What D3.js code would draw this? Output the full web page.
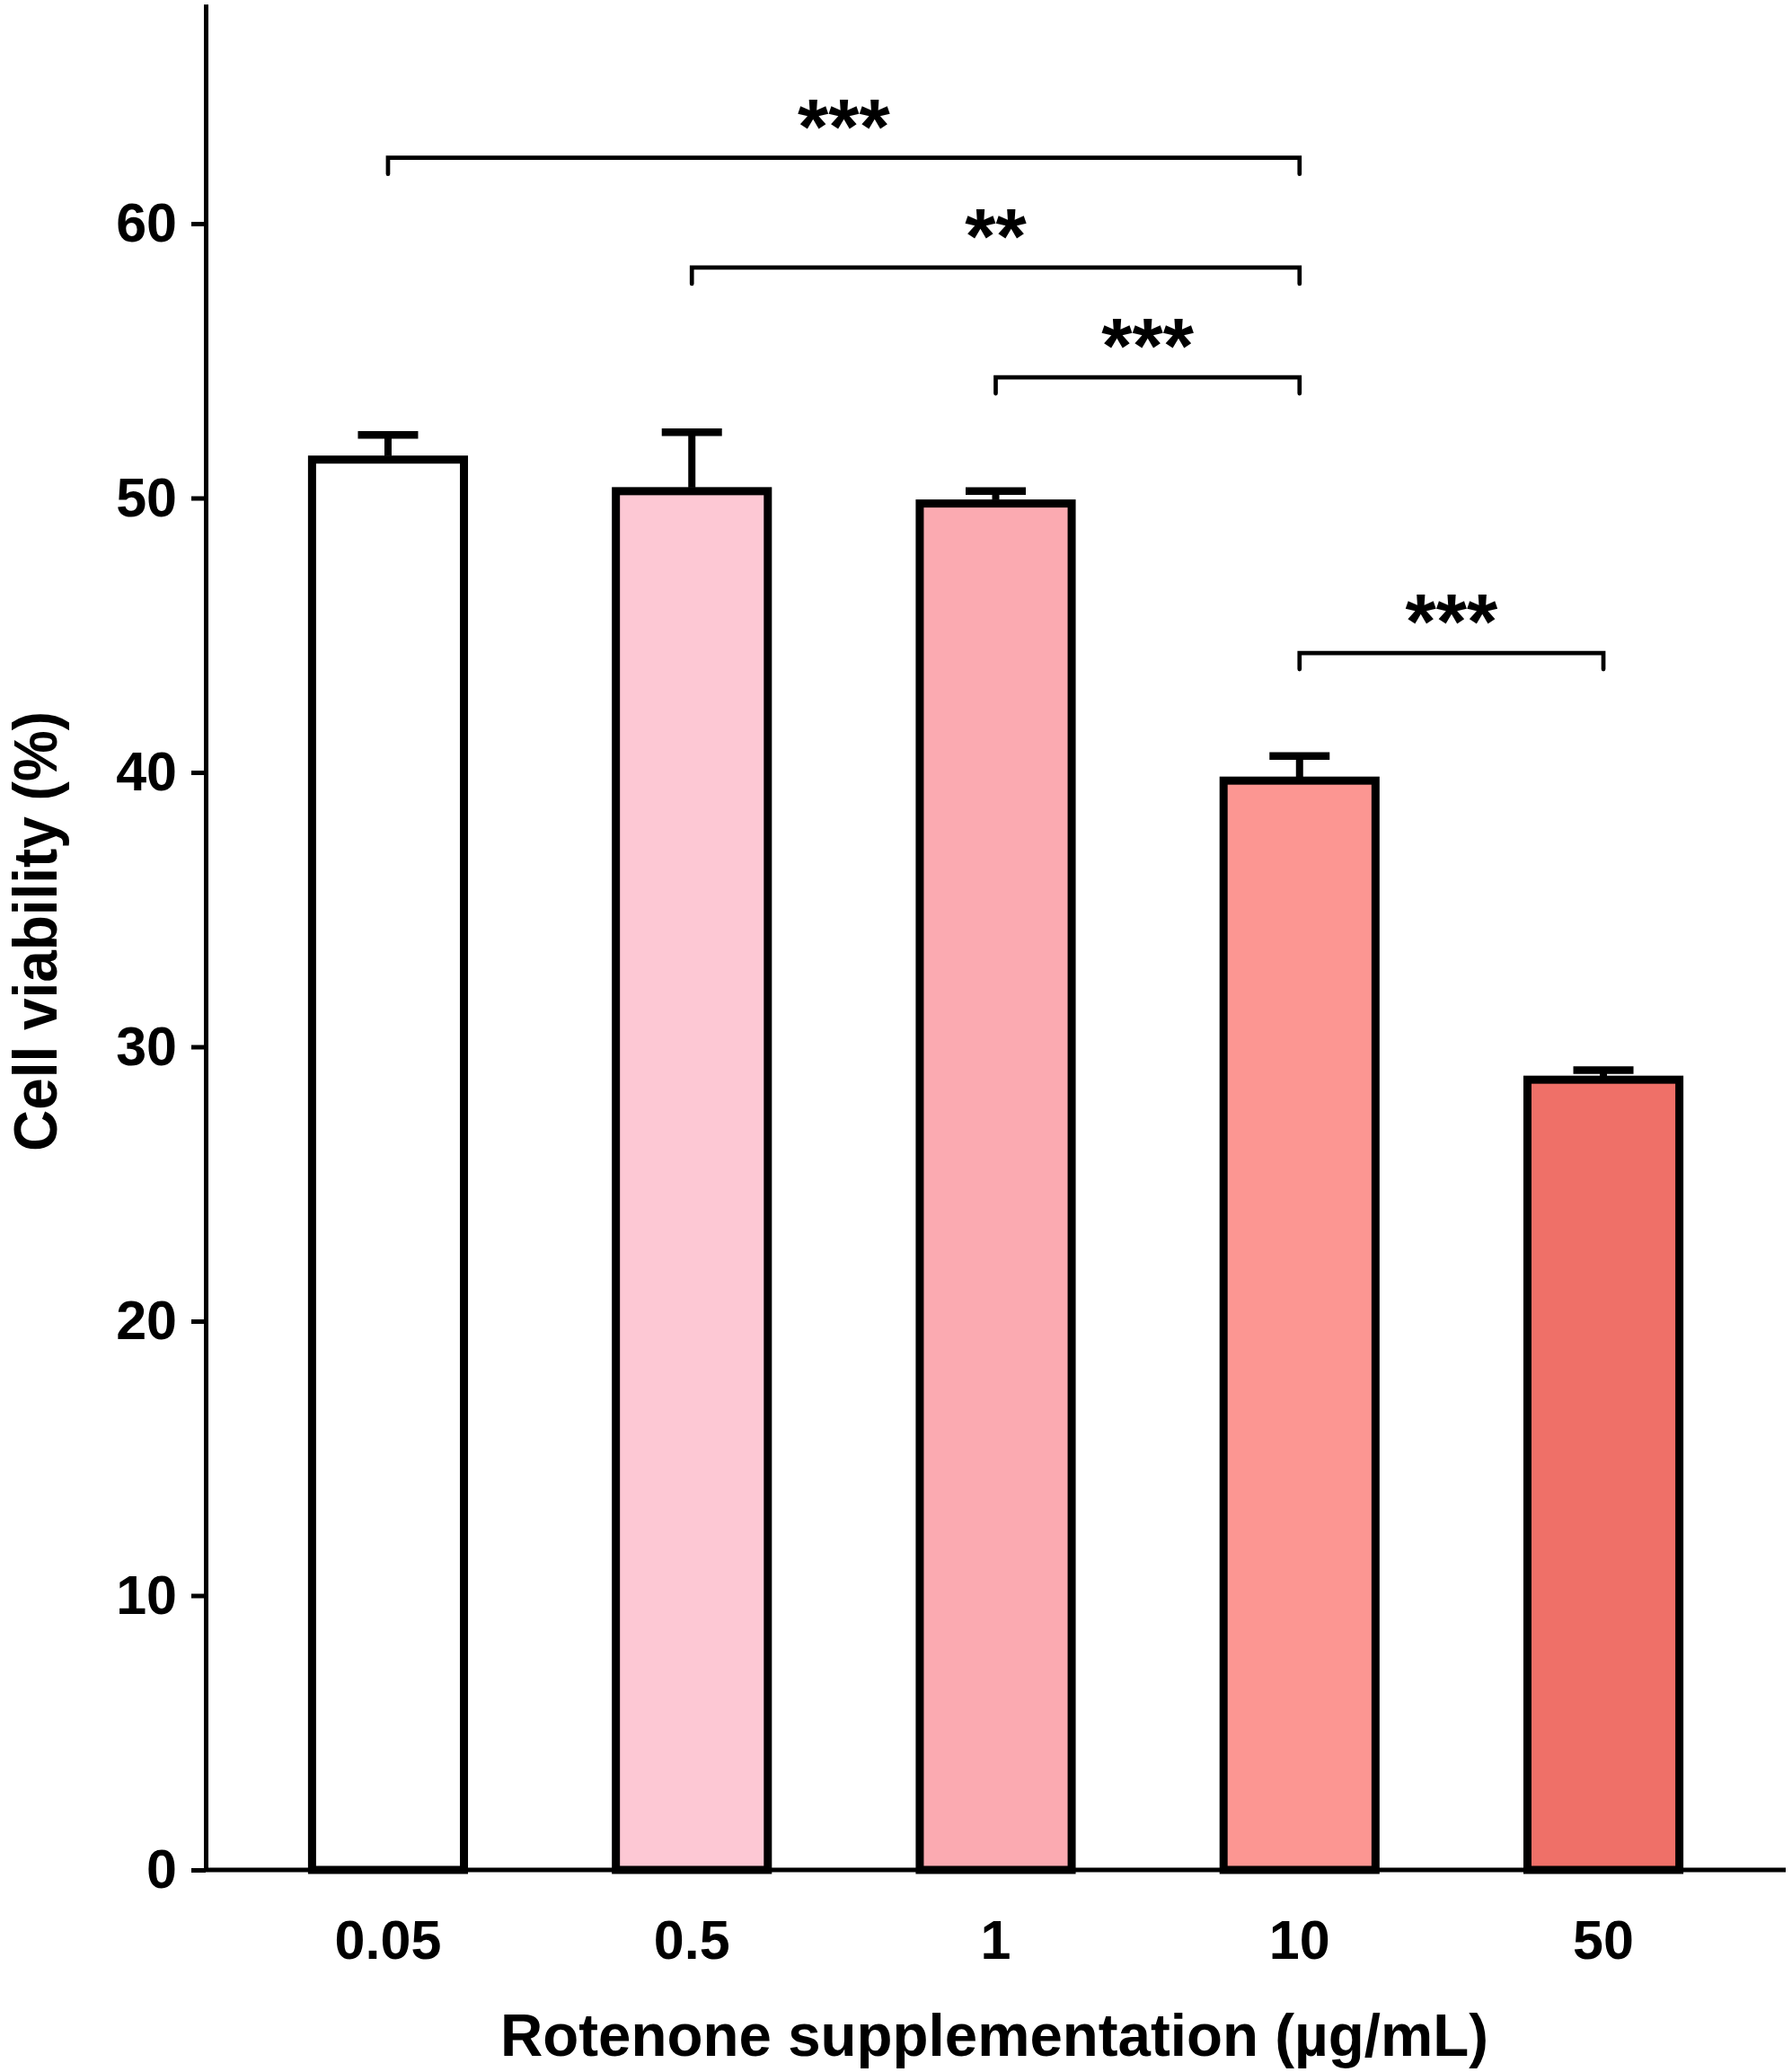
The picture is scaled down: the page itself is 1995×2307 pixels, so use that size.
<!DOCTYPE html>
<html>
<head>
<meta charset="utf-8">
<script src="https://cdn.jsdelivr.net/npm/d3@7"></script>
<style>
  body { margin: 0; background: #fff; }
  text { font-family: "Liberation Sans", Arial, sans-serif; font-weight: bold; fill: #000; }
</style>
</head>
<body>
<div id="chart"></div>
<script>
// rotenone dose groups and the cell viability
var categories = ["0.05", "0.5", "1", "10", "50"];
var means = [51.4, 50.25, 49.8, 39.7, 28.8];
var sems = [0.9, 2.15, 0.45, 0.9, 0.35];
var colors = ["#ffffff", "#fdc8d4", "#fbaab1", "#fc9692", "#ef7068"];
var yTicks = [0, 10, 20, 30, 40, 50, 60];
// significance brackets: from group, to group, height (in % units), stars
var brFrom = ["0.05", "0.5", "1", "10"];
var brTo = ["10", "10", "10", "50"];
var brLevel = [62.4, 58.4, 54.4, 44.35];
var brLabel = ["***", "**", "***", "***"];

var width = 1995, height = 2307;

var svg = d3.select("#chart").append("svg")
    .attr("width", width)
    .attr("height", height);

var y = d3.scaleLinear().domain([0, 68]).range([2082, 4.6]);
var x = d3.scaleBand().domain(categories).range([229, 1988])
    .paddingInner(0.5).paddingOuter(0.35);
var cx = function(c) { return x(c) + x.bandwidth() / 2; };

var data = categories.map(function(c, i) {
  return { c: c, m: means[i], e: sems[i], col: colors[i] };
});

// bars
svg.selectAll("rect.bar")
    .data(data).enter()
  .append("rect")
    .attr("class", "bar")
    .attr("x", function(d) { return x(d.c); })
    .attr("y", function(d) { return y(d.m); })
    .attr("width", x.bandwidth())
    .attr("height", function(d) { return y(0) - y(d.m); })
    .attr("fill", function(d) { return d.col; })
    .attr("stroke", "#000")
    .attr("stroke-width", 9);

// error bars (upper only)
svg.selectAll("line.stem")
    .data(data).enter()
  .append("line")
    .attr("x1", function(d) { return cx(d.c); })
    .attr("x2", function(d) { return cx(d.c); })
    .attr("y1", function(d) { return y(d.m) - 4; })
    .attr("y2", function(d) { return y(d.m + d.e); })
    .attr("stroke", "#000")
    .attr("stroke-width", 8);
svg.selectAll("line.cap")
    .data(data).enter()
  .append("line")
    .attr("x1", function(d) { return cx(d.c) - 33.5; })
    .attr("x2", function(d) { return cx(d.c) + 33.5; })
    .attr("y1", function(d) { return y(d.m + d.e); })
    .attr("y2", function(d) { return y(d.m + d.e); })
    .attr("stroke", "#000")
    .attr("stroke-width", 8.5);

// y axis
var yAxis = svg.append("g")
    .attr("transform", "translate(229,0)")
    .call(d3.axisLeft(y).tickValues(yTicks).tickSize(16).tickSizeOuter(0).tickPadding(16));
yAxis.select(".domain").attr("stroke", "#000").attr("stroke-width", 5);
yAxis.selectAll(".tick line").attr("stroke", "#000").attr("stroke-width", 5);
yAxis.selectAll(".tick text")
    .style("font-size", "61px")
    .style("font-family", "'Liberation Sans', Arial, sans-serif")
    .style("font-weight", "bold")
    .attr("fill", "#000");

// x axis
svg.append("line")
    .attr("x1", 229).attr("x2", 1988)
    .attr("y1", y(0)).attr("y2", y(0))
    .attr("stroke", "#000").attr("stroke-width", 5);
var xAxis = svg.append("g")
    .attr("transform", "translate(0," + y(0) + ")")
    .call(d3.axisBottom(x).tickSize(0).tickPadding(56));
xAxis.select(".domain").remove();
xAxis.selectAll(".tick text")
    .style("font-size", "61px")
    .style("font-family", "'Liberation Sans', Arial, sans-serif")
    .style("font-weight", "bold")
    .attr("fill", "#000");

// significance brackets
var brackets = brFrom.map(function(f, i) {
  return { x1: cx(f), x2: cx(brTo[i]), yb: y(brLevel[i]), t: brLabel[i] };
});
svg.selectAll("path.br")
    .data(brackets).enter()
  .append("path")
    .attr("d", function(d) {
      return "M" + d.x1 + "," + (d.yb + 18) + "V" + d.yb + "H" + d.x2 + "V" + (d.yb + 18);
    })
    .attr("fill", "none")
    .attr("stroke", "#000")
    .attr("stroke-width", 4.7)
    .attr("stroke-linecap", "round");
svg.selectAll("text.star")
    .data(brackets).enter()
  .append("text")
    .attr("x", function(d) { return (d.x1 + d.x2) / 2; })
    .attr("y", function(d) { return d.yb - 5; })
    .attr("text-anchor", "middle")
    .style("font-size", "88px")
    .text(function(d) { return d.t; });

// axis titles
svg.append("text")
    .attr("transform", "translate(63,1037) rotate(-90)")
    .attr("text-anchor", "middle")
    .attr("textLength", 490)
    .attr("lengthAdjust", "spacingAndGlyphs")
    .style("font-size", "68px")
    .text("Cell viability (%)");
svg.append("text")
    .attr("x", 1107)
    .attr("y", 2289)
    .attr("text-anchor", "middle")
    .attr("textLength", 1100)
    .attr("lengthAdjust", "spacingAndGlyphs")
    .style("font-size", "67px")
    .text("Rotenone supplementation (µg/mL)");
</script>
</body>
</html>
